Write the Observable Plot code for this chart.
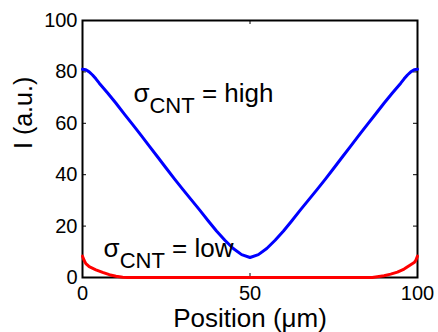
<!DOCTYPE html>
<html><head><meta charset="utf-8">
<script src="https://cdn.jsdelivr.net/npm/d3@7"></script>
<script src="https://cdn.jsdelivr.net/npm/@observablehq/plot@0.6"></script>
<style>
body{margin:0;background:#fff}
svg{font-family:"Liberation Sans",Arial,sans-serif}
</style>
</head><body><div id="chart"></div>
<script>
const xTicks = [0, 50, 100];
const yTicks = [0, 20, 40, 60, 80, 100];
const innerYTicks = [20, 40, 60, 80];
const innerXTicks = [50];

const blueX = [0, 1, 2, 3, 4, 5, 7.5, 10, 12.5, 15, 17.5, 20, 22.5, 25, 27.5, 30, 32.5, 35, 37.5, 40, 42.5, 45, 47.5, 50,
  52.5, 55, 57.5, 60, 62.5, 65, 67.5, 70, 72.5, 75, 77.5, 80, 82.5, 85, 87.5, 90, 92.5, 95, 96, 97, 98, 99, 100];
const blueY = [81, 80.8, 80, 78.8, 77.3, 75.6, 71.8, 67.8, 63.6, 59.5, 55.3, 51, 46.8, 42.5, 38.3, 34.2, 30.2, 26.2, 22.1, 18.1, 14.5, 11.3, 8.9, 7.8,
  8.9, 11.3, 14.5, 18.1, 22.1, 26.2, 30.2, 34.2, 38.3, 42.5, 46.8, 51, 55.3, 59.5, 63.6, 67.8, 71.8, 75.6, 77.3, 78.8, 80, 80.8, 81];

const redX = [0, 0.5, 1, 2, 4, 6, 8, 10, 12, 13.5, 86.5, 88, 90, 92, 94, 96, 97.5, 99, 99.5, 100];
const redY = [8.3, 6.6, 5.4, 4.2, 3.0, 2.0, 1.1, 0.5, 0.1, 0, 0, 0.3, 0.7, 1.3, 2.1, 3.3, 4.6, 5.8, 6.7, 8.3];

const annoX = [15.2, 6.3];
const annoY = [68.1, 7.8];
const annoSym = ["σ", "σ"];
const annoSub = ["CNT", "CNT"];
const annoRest = [" = high", " = low"];

const xLabel = "Position (μm)";
const yLabel = "I (a.u.)";

const blue = blueX.map((x, i) => ({x, y: blueY[i]}));
const red = redX.map((x, i) => ({x, y: redY[i]}));
const annos = annoX.map((x, i) => ({x, y: annoY[i], sym: annoSym[i], sub: annoSub[i], rest: annoRest[i]}));

const W = 438, H = 332, ML = 82, MT = 20, MR = 21, MB = 55;
const PW = W - ML - MR, PH = H - MT - MB, TL = 4;

const chart = Plot.plot({
  width: W, height: H,
  marginLeft: ML, marginTop: MT, marginRight: MR, marginBottom: MB,
  style: {fontSize: "20px", fontFamily: '"Liberation Sans", Arial, sans-serif', background: "white", color: "black", overflow: "visible"},
  x: {domain: [0, 100]},
  y: {domain: [0, 100]},
  marks: [
    Plot.axisX({ticks: xTicks, tickSize: 0, tickPadding: 8, label: null, fontSize: 20}),
    Plot.axisY({ticks: yTicks, tickSize: 0, tickPadding: 5, label: null, fontSize: 20}),
    Plot.tickY(innerYTicks, {y: d => d, insetRight: PW - TL, stroke: "black", strokeWidth: 1}),
    Plot.tickY(innerYTicks, {y: d => d, insetLeft: PW - TL, stroke: "black", strokeWidth: 1}),
    Plot.tickX(innerXTicks, {x: d => d, insetTop: PH - TL, stroke: "black", strokeWidth: 1}),
    Plot.tickX(innerXTicks, {x: d => d, insetBottom: PH - TL, stroke: "black", strokeWidth: 1}),
    Plot.frame({stroke: "black", strokeWidth: 2}),
    Plot.line(blue, {x: "x", y: "y", stroke: "#0000ff", strokeWidth: 3, curve: "linear"}),
    Plot.line(red, {x: "x", y: "y", stroke: "#ff0000", strokeWidth: 3, curve: "linear"}),
    Plot.text(annos, {x: "x", y: "y", text: d => d.sym + d.sub + d.rest, textAnchor: "start", fontSize: 26, fill: "black"}),
    Plot.text([xLabel], {frameAnchor: "bottom", dy: 49, text: d => d, fontSize: 26, fill: "black"}),
    Plot.text([yLabel], {frameAnchor: "left", dx: -59, rotate: -90, text: d => d, fontSize: 25, fill: "black"})
  ]
});

d3.select(chart).selectAll("text").each(function() {
  const t = d3.select(this);
  const content = this.textContent;
  const a = annos.find(a => a.sym + a.sub + a.rest === content);
  if (!a) return;
  t.attr("y", null).attr("dy", null).text(null);
  t.append("tspan").text(a.sym);
  t.append("tspan").attr("dy", 11).attr("font-size", 22).text(a.sub);
  t.append("tspan").attr("dy", -11).text(a.rest);
});

document.getElementById("chart").appendChild(chart);
</script>
</body></html>
